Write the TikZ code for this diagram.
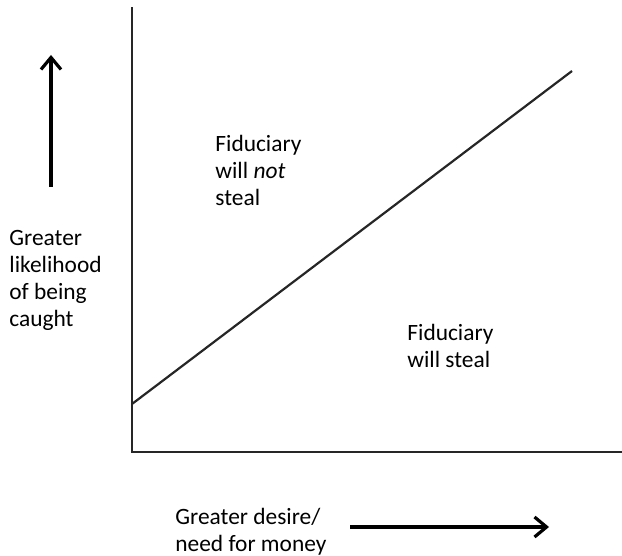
\documentclass[tikz,border=0pt]{standalone}
\usepackage{fontspec}
\setmainfont{Carlito}
\usepackage{tikz}
\usetikzlibrary{arrows.meta,positioning}

\begin{document}
\begin{tikzpicture}[
    x=0.5pt, y=-0.5pt,
    every node/.style={font=\fontsize{11.7}{13.5}\selectfont, inner sep=0pt, align=left},
    axis/.style={line width=1.1pt, black!85},
    arr/.style={-{Straight Barb[length=6pt, width=10pt, line width=1.6pt]}, line width=1.9pt},
  ]
  \useasboundingbox (0,0) rectangle (622,556);

  % ── Axes ─────────────────────────────────────────────────────────────────
  \coordinate (ytop)   at (132, 8);
  \coordinate (origin) at (132, 452);
  \coordinate (xend)   at (622, 452);
  \draw[axis, line cap=rect] (ytop) -- (origin) -- (xend);

  % Threshold line
  \coordinate (lineStart) at (132, 404);
  \coordinate (lineEnd)   at (572, 71);
  \draw[axis] (lineStart) -- (lineEnd);

  % ── Region labels ────────────────────────────────────────────────────────
  \node[anchor=west] (notSteal) at (215, 170) {Fiduciary\\will \textit{not}\\steal};
  \node[anchor=west] (steal)    at (407, 346) {Fiduciary\\will steal};

  % ── Axis labels and arrows ───────────────────────────────────────────────
  \node[anchor=west] (ylabel) at (9, 280) {Greater\\likelihood\\of being\\caught};
  \node[anchor=west] (xlabel) at (175, 532) {Greater desire/\\need for money};

  \coordinate (yArrTail) at (51, 187);
  \coordinate (yArrTip)  at (51, 55);
  \draw[arr] (yArrTail) -- (yArrTip);

  \coordinate (xArrTail) at (350, 527);
  \coordinate (xArrTip)  at (549, 527);
  \draw[arr] (xArrTail) -- (xArrTip);

\end{tikzpicture}
\end{document}
